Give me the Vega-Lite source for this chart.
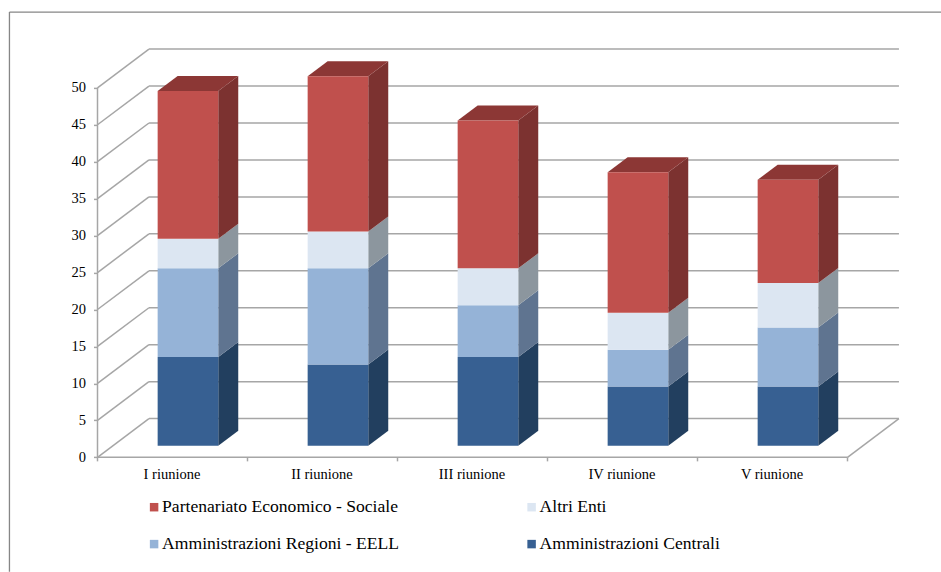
{
"$schema":"https://vega.github.io/schema/vega-lite/v6.json",
"width":840,"height":443.4,
"autosize":{"type":"none"},
"padding":{"left":97.5,"top":13.9,"right":3.5,"bottom":114.7},
"background":"white",
"view":{"stroke":null},
"config":{"font":"Liberation Serif"},
"datasets":{
"griglia":[{"v":0},{"v":5},{"v":10},{"v":15},{"v":20},{"v":25},{"v":30},{"v":35},{"v":40},{"v":45},{"v":50}],
"categorie":[{"k":0},{"k":1},{"k":2},{"k":3},{"k":4},{"k":5}],
"riunioni":[
{"riunione":"I riunione","n":0,"ente":"Amministrazioni Centrali","ordine":1,"valore":12},
{"riunione":"I riunione","n":0,"ente":"Amministrazioni Regioni - EELL","ordine":2,"valore":12},
{"riunione":"I riunione","n":0,"ente":"Altri Enti","ordine":3,"valore":4},
{"riunione":"I riunione","n":0,"ente":"Partenariato Economico - Sociale","ordine":4,"valore":20},
{"riunione":"II riunione","n":1,"ente":"Amministrazioni Centrali","ordine":1,"valore":11},
{"riunione":"II riunione","n":1,"ente":"Amministrazioni Regioni - EELL","ordine":2,"valore":13},
{"riunione":"II riunione","n":1,"ente":"Altri Enti","ordine":3,"valore":5},
{"riunione":"II riunione","n":1,"ente":"Partenariato Economico - Sociale","ordine":4,"valore":21},
{"riunione":"III riunione","n":2,"ente":"Amministrazioni Centrali","ordine":1,"valore":12},
{"riunione":"III riunione","n":2,"ente":"Amministrazioni Regioni - EELL","ordine":2,"valore":7},
{"riunione":"III riunione","n":2,"ente":"Altri Enti","ordine":3,"valore":5},
{"riunione":"III riunione","n":2,"ente":"Partenariato Economico - Sociale","ordine":4,"valore":20},
{"riunione":"IV riunione","n":3,"ente":"Amministrazioni Centrali","ordine":1,"valore":8},
{"riunione":"IV riunione","n":3,"ente":"Amministrazioni Regioni - EELL","ordine":2,"valore":5},
{"riunione":"IV riunione","n":3,"ente":"Altri Enti","ordine":3,"valore":5},
{"riunione":"IV riunione","n":3,"ente":"Partenariato Economico - Sociale","ordine":4,"valore":19},
{"riunione":"V riunione","n":4,"ente":"Amministrazioni Centrali","ordine":1,"valore":8},
{"riunione":"V riunione","n":4,"ente":"Amministrazioni Regioni - EELL","ordine":2,"valore":8},
{"riunione":"V riunione","n":4,"ente":"Altri Enti","ordine":3,"valore":6},
{"riunione":"V riunione","n":4,"ente":"Partenariato Economico - Sociale","ordine":4,"valore":14}
]},
"resolve":{"scale":{"color":"independent"}},
"layer":[
{"data":{"values":[{}]},
 "mark":{"type":"rule","stroke":"#868686","strokeWidth":1.3},
 "encoding":{
  "x":{"datum":-0.587,"type":"quantitative","scale":{"domain":[0,5.6],"nice":false,"zero":false},
   "axis":{"title":null,"values":[0.5,1.5,2.5,3.5,4.5],"labelExpr":"['I riunione','II riunione','III riunione','IV riunione','V riunione'][datum.value-0.5]","domain":false,"ticks":false,"grid":false,"labelFont":"Liberation Serif","labelFontSize":14.5,"labelColor":"#000000","labelPadding":10,"labelOffset":-1,"labelOverlap":false,"labelBound":false,"labelFlush":false}},
  "y":{"datum":60.25,"type":"quantitative","scale":{"domain":[0,60],"nice":false,"zero":false},
   "axis":{"title":null,"values":[0,5,10,15,20,25,30,35,40,45,50],"domain":false,"grid":false,"tickSize":4,"tickWidth":1.5,"tickColor":"#A6A6A6","labelFont":"Liberation Serif","labelFontSize":14.5,"labelColor":"#000000","labelPadding":8,"labelOverlap":false,"labelBound":false}},
  "y2":{"datum":-15.5}
 }},
{"data":{"values":[{}]},
 "mark":{"type":"rule","stroke":"#868686","strokeWidth":1.3},
 "encoding":{"x":{"datum":-0.587,"type":"quantitative"},"x2":{"datum":5.63},"y":{"datum":60.25,"type":"quantitative"}}},
{"data":{"values":[{}]},
 "mark":{"type":"rule","stroke":"#A6A6A6","strokeWidth":1.5},
 "encoding":{"x":{"datum":0,"type":"quantitative"},"y":{"datum":0,"type":"quantitative"},"y2":{"datum":50}}},
{"data":{"values":[{}]},
 "mark":{"type":"rule","stroke":"#A6A6A6","strokeWidth":1.5},
 "encoding":{"x":{"datum":0,"type":"quantitative"},"x2":{"datum":5},"y":{"datum":0,"type":"quantitative"}}},
{"data":{"values":[{}]},
 "mark":{"type":"rule","stroke":"#A6A6A6","strokeWidth":1.5},
 "encoding":{"x":{"datum":5,"type":"quantitative"},"x2":{"datum":5.343},"y":{"datum":0,"type":"quantitative"},"y2":{"datum":5.24}}},
{"data":{"name":"categorie"},
 "mark":{"type":"rule","stroke":"#A6A6A6","strokeWidth":1.5},
 "encoding":{"x":{"field":"k","type":"quantitative"},"y":{"datum":0,"type":"quantitative"},"y2":{"datum":-0.55}}},
{"data":{"name":"griglia"},
 "transform":[{"calculate":"datum.v+5.24","as":"vb"}],
 "mark":{"type":"rule","stroke":"#A6A6A6","strokeWidth":1.5},
 "encoding":{"x":{"datum":0,"type":"quantitative"},"x2":{"datum":0.343},"y":{"field":"v","type":"quantitative"},"y2":{"field":"vb"}}},
{"data":{"name":"griglia"},
 "transform":[{"calculate":"datum.v+5.24","as":"vb"}],
 "mark":{"type":"rule","stroke":"#A6A6A6","strokeWidth":1.5},
 "encoding":{"x":{"datum":0.343,"type":"quantitative"},"x2":{"datum":5.343},"y":{"field":"vb","type":"quantitative"}}},
{"data":{"name":"riunioni"},
 "transform":[
  {"stack":"valore","groupby":["riunione"],"sort":[{"field":"ordine","order":"ascending"}],"as":["y0","y1"]},
  {"calculate":"[0,1]","as":"t"},{"flatten":["t"]},
  {"calculate":"datum.n+0.805+datum.t*0.1333","as":"xs"},
  {"calculate":"datum.y0+1.57+datum.t*2.03","as":"ya"},
  {"calculate":"datum.y1+1.57+datum.t*2.03","as":"yb"}
 ],
 "mark":{"type":"area","orient":"vertical"},
 "encoding":{
  "x":{"field":"xs","type":"quantitative"},
  "y":{"field":"ya","type":"quantitative","stack":null},
  "y2":{"field":"yb"},
  "detail":{"field":"riunione"},
  "color":{"field":"ente","type":"nominal","legend":null,"scale":{"domain":["Partenariato Economico - Sociale","Altri Enti","Amministrazioni Regioni - EELL","Amministrazioni Centrali"],"range":["#7C3230","#8C969E","#5F7490","#223F5F"]}}
 }},
{"data":{"name":"riunioni"},
 "transform":[
  {"stack":"valore","groupby":["riunione"],"sort":[{"field":"ordine","order":"ascending"}],"as":["y0","y1"]},
  {"filter":"datum.ordine===4"},
  {"calculate":"[0,0.1333,0.404,0.5373]","as":"d"},{"flatten":["d"]},
  {"calculate":"datum.n+0.401+datum.d","as":"xs"},
  {"calculate":"datum.y1+1.57+min(datum.d/0.1333,1)*2.03","as":"ya"},
  {"calculate":"datum.y1+1.57+max(0,(datum.d-0.404)/0.1333)*2.03","as":"yb"}
 ],
 "mark":{"type":"area","orient":"vertical","color":"#8C3735"},
 "encoding":{
  "x":{"field":"xs","type":"quantitative"},
  "y":{"field":"ya","type":"quantitative","stack":null},
  "y2":{"field":"yb"},
  "detail":{"field":"riunione"}
 }},
{"data":{"name":"riunioni"},
 "transform":[
  {"stack":"valore","groupby":["riunione"],"sort":[{"field":"ordine","order":"ascending"}],"as":["y0","y1"]},
  {"calculate":"datum.n+0.401","as":"xa"},
  {"calculate":"datum.n+0.805","as":"xb"},
  {"calculate":"datum.y0+1.57","as":"ya"},
  {"calculate":"datum.y1+1.57","as":"yb"}
 ],
 "mark":{"type":"rect"},
 "encoding":{
  "x":{"field":"xa","type":"quantitative"},
  "x2":{"field":"xb"},
  "y":{"field":"ya","type":"quantitative"},
  "y2":{"field":"yb"},
  "color":{"field":"ente","type":"nominal","scale":{"domain":["Partenariato Economico - Sociale","Altri Enti","Amministrazioni Regioni - EELL","Amministrazioni Centrali"],"range":["#C0504D","#DCE6F2","#95B3D7","#376092"]},
   "legend":{"title":null,"orient":"none","legendX":47.8,"legendY":484.2,"columns":2,"direction":"horizontal","symbolType":"square","symbolSize":72,"symbolStrokeWidth":0,"symbolOpacity":1,"labelFont":"Liberation Serif","labelFontSize":17.6,"labelColor":"#000000","labelOffset":-0.85,"labelLimit":400,"columnPadding":123.5,"rowPadding":18.2,"padding":0}}
 }}
]}
